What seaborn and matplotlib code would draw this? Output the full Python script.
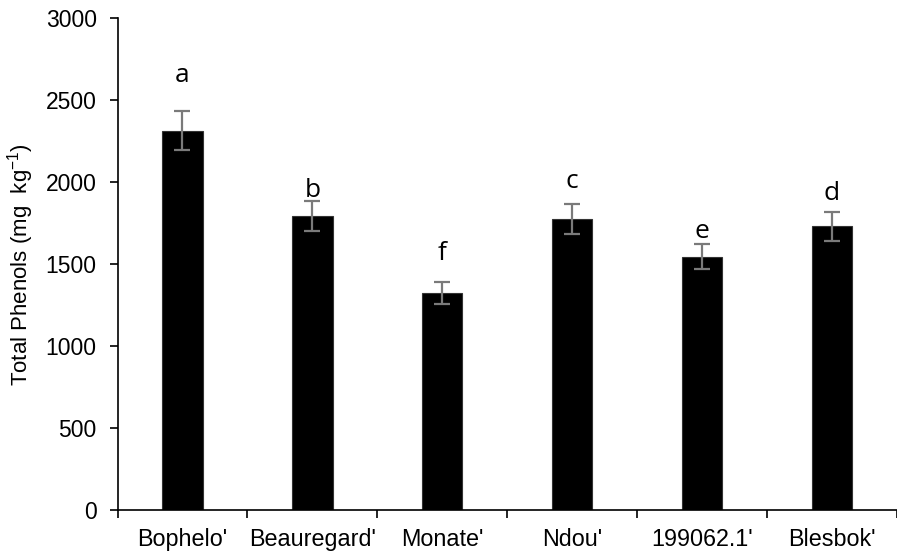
import matplotlib
matplotlib.use("Agg")
import matplotlib.pyplot as plt
import seaborn as sns
import pandas as pd

cultivars = ["Bophelo'", "Beauregard'", "Monate'", "Ndou'", "199062.1'", "Blesbok'"]
phenols = [2315, 1795, 1322, 1773, 1545, 1730]
errors = [117, 90, 68, 92, 77, 88]
letters = ["a", "b", "f", "c", "e", "d"]
letter_y = [2610, 1908, 1524, 1963, 1659, 1890]
yticks = [0, 500, 1000, 1500, 2000, 2500, 3000]

sns.set_theme(style="white")
plt.rcParams["font.family"] = ["Liberation Sans", "DejaVu Sans"]
plt.rcParams["text.color"] = "black"
plt.rcParams["axes.labelcolor"] = "black"
plt.rcParams["xtick.color"] = "black"
plt.rcParams["ytick.color"] = "black"

df = pd.DataFrame({"cultivar": cultivars, "phenols": phenols})

fig = plt.figure(figsize=(8.97, 5.52), dpi=100)
ax = fig.add_axes([0.131, 0.076, 0.869, 0.891])

sns.barplot(data=df, x="cultivar", y="phenols", color="black", width=0.31,
            edgecolor="#333333", linewidth=0.8, errorbar=None, ax=ax, saturation=1)
xs = list(range(len(cultivars)))
ax.errorbar(xs, phenols, yerr=errors, fmt="none", ecolor="#7a7a7a",
            elinewidth=1.6, capsize=6, capthick=1.6)

for x, lab, ly in zip(xs, letters, letter_y):
    ax.text(x, ly, lab, ha="center", va="baseline", fontsize=19,
            family=["Open Sans", "DejaVu Sans"], color="black")

ax.set_ylim(0, 3000)
ax.set_xlim(-0.5, len(cultivars) - 0.5)
ax.set_yticks(yticks)
ax.set_yticklabels([str(v) for v in yticks], fontsize=16.5, color="black")

# boundary ticks as major ticks, labels as minor ticks
ax.set_xticks([i - 0.5 for i in range(len(cultivars) + 1)])
ax.set_xticklabels([])
ax.set_xticks(xs, minor=True)
ax.set_xticklabels(cultivars, minor=True, fontsize=16.8, color="black")
ax.tick_params(axis="x", which="minor", length=0, pad=13)
ax.tick_params(axis="x", which="major", direction="out", length=6, width=1.2, color="black", bottom=True)
ax.tick_params(axis="y", direction="out", length=6, width=1.2, color="black", left=True, pad=9)

ax.set_xlabel("")
ax.set_ylabel("Total Phenols (mg  kg$^{\\mathregular{-1}}$)", fontsize=16, labelpad=7, color="black")

for s in ["top", "right"]:
    ax.spines[s].set_visible(False)
for s in ["left", "bottom"]:
    ax.spines[s].set_color("black")
    ax.spines[s].set_linewidth(1.2)

fig.savefig("out.png", dpi=100)
